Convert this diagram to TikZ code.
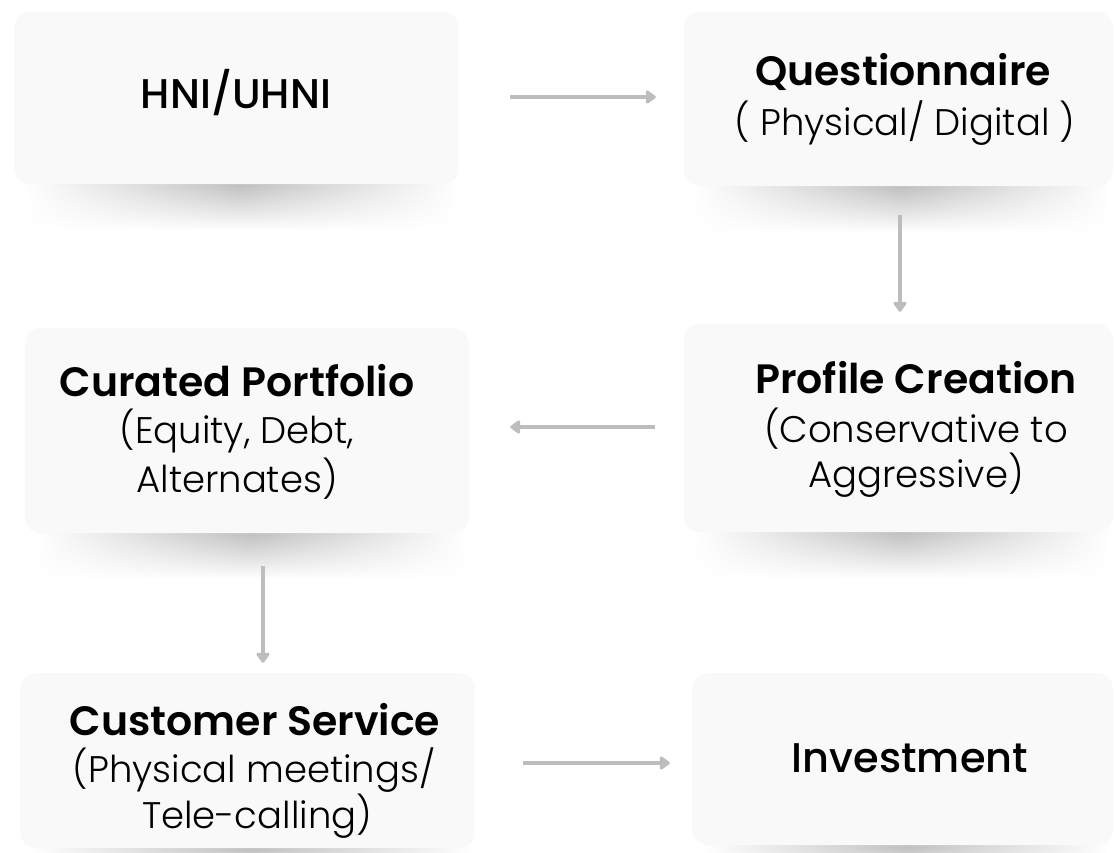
\documentclass[tikz,border=0pt]{standalone}
\usepackage{fontspec}
\setmainfont{Poppins}
\newfontfamily\titlefont{Poppins SemiBold}
\newfontfamily\bodyfont{Poppins Light}
\newfontfamily\plainfont{Poppins Medium}
\usetikzlibrary{arrows.meta,fadings}
\definecolor{boxfill}{HTML}{F9F9F9}
\definecolor{arrowgray}{HTML}{BDBDBD}
\tikzfading[name=sidefade, left color=transparent!100, right color=transparent!100, middle color=transparent!0]
\newcommand\castshadow[4]{%
  \shade[top color=black!26, bottom color=white, path fading=sidefade]
    (#1+12,#4-2) rectangle (#3-4,#4+46);}
\begin{document}
\begin{tikzpicture}[x=1pt,y=-1pt,
  box/.style={fill=boxfill, rounded corners=16pt, inner sep=0pt, draw=none},
  title/.style={font=\titlefont\fontsize{41}{47}\selectfont, text=black, inner sep=0pt, anchor=base},
  body/.style={font=\bodyfont\fontsize{37}{42}\selectfont, text=black, inner sep=0pt, anchor=base},
  plain/.style={font=\plainfont\fontsize{41.5}{48}\selectfont, text=black, inner sep=0pt, anchor=base},
  arr/.style={draw=arrowgray, line width=4pt, -{Triangle[length=11pt,width=15pt,round]}},
]
\clip (0,0) rectangle (1114,852);
\fill[white] (0,0) rectangle (1114,852);

% shadows
\castshadow{14}{12}{459}{184}
\castshadow{684}{12}{1113}{186}
\castshadow{684}{324}{1113}{532}
\castshadow{25}{328}{469}{533}
\castshadow{20}{673}{475}{848}
\castshadow{692}{673}{1113}{845}

% boxes
\node[box, minimum width=445pt, minimum height=172pt] (b1) at (236.5,98) {};
\node[box, minimum width=429pt, minimum height=174pt] (b2) at (898.5,99) {};
\node[box, minimum width=429pt, minimum height=208pt] (b3) at (898.5,428) {};
\node[box, minimum width=444pt, minimum height=205pt] (b4) at (247,430.5) {};
\node[box, minimum width=455pt, minimum height=175pt] (b5) at (247.5,760.5) {};
\node[box, minimum width=421pt, minimum height=172pt] (b6) at (902.5,759) {};

% texts
\node[plain] (t1) at (236,108) {HNI/UHNI};

\node[title] (t2a) at (903,85) {Questionnaire};
\node[body] (t2b) at (905,135) {( Physical/ Digital )};

\node[title] (t3a) at (916,393) {Profile Creation};
\node[body] (t3b) at (916,442) {(Conservative to};
\node[body] (t3c) at (916,487) {Aggressive)};

\node[title] (t4a) at (237,396) {Curated Portfolio};
\node[body] (t4b) at (237,443) {(Equity, Debt,};
\node[body] (t4c) at (237,492) {Alternates)};

\node[title] (t5a) at (255,735) {Customer Service};
\node[body] (t5b) at (254,782) {(Physical meetings/};
\node[body] (t5c) at (257,828) {Tele-calling)};

\node[plain] (t6) at (910,772) {Investment};

% connectors
\draw[arr, shorten <=51pt, shorten >=28pt] ([yshift=1pt]b1.east) -- ([yshift=1pt]b1.east -| b2.west);
\draw[arr, shorten <=29pt, shorten >=12pt] ([xshift=1.5pt]b2.south) -- ([xshift=1.5pt]b2.south |- b3.north);
\draw[arr, shorten <=29pt, shorten >=41pt] ([yshift=1pt]b3.west) -- ([yshift=1pt]b3.west -| b4.east);
\draw[arr, shorten <=33pt, shorten >=10pt] ([xshift=16pt]b4.south) -- ([xshift=16pt]b4.south |- b5.north);
\draw[arr, shorten <=48pt, shorten >=22pt] ([yshift=-2.5pt]b5.east) -- ([yshift=-2.5pt]b5.east -| b6.west);
\end{tikzpicture}
\end{document}
